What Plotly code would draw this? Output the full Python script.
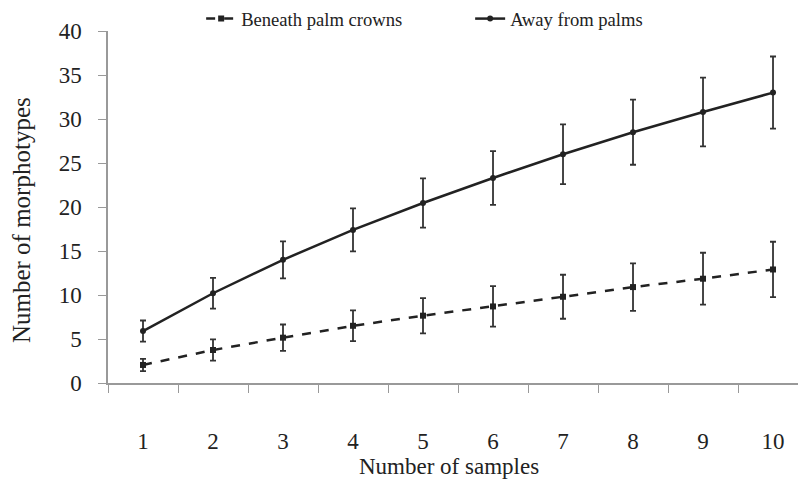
import plotly.graph_objects as go

samples = [1, 2, 3, 4, 5, 6, 7, 8, 9, 10]
tick_labels = ["1", "2", "3", "4", "5", "6", "7", "8", "9", "10"]

beneath = [2.05, 3.75, 5.15, 6.5, 7.65, 8.7, 9.8, 10.9, 11.85, 12.9]
beneath_err = [0.7, 1.2, 1.5, 1.75, 2.0, 2.3, 2.5, 2.7, 2.95, 3.15]

away = [5.9, 10.2, 14.0, 17.4, 20.45, 23.3, 26.0, 28.5, 30.8, 33.0]
away_err = [1.2, 1.75, 2.1, 2.45, 2.8, 3.05, 3.4, 3.7, 3.9, 4.1]

FONT = "'Liberation Serif', 'Times New Roman', 'DejaVu Serif', serif"
INK = "#222222"

fig = go.Figure()
fig.add_trace(go.Scatter(
    x=samples, y=beneath, name="Beneath palm crowns", mode="lines+markers",
    line=dict(color=INK, width=2.5, dash="dash"),
    marker=dict(symbol="square", size=6, color=INK),
    error_y=dict(type="data", array=beneath_err, visible=True, color="#333333", thickness=1.8, width=3),
))
fig.add_trace(go.Scatter(
    x=samples, y=away, name="Away from palms", mode="lines+markers",
    line=dict(color=INK, width=2.5),
    marker=dict(symbol="circle", size=6, color=INK),
    error_y=dict(type="data", array=away_err, visible=True, color="#333333", thickness=1.8, width=3),
))

fig.update_layout(
    width=798, height=479,
    margin=dict(l=108, r=0, t=31, b=96, autoexpand=False),
    paper_bgcolor="white", plot_bgcolor="white",
    font=dict(family=FONT, color=INK),
    showlegend=True,
    legend=dict(orientation="h", x=0.135, y=1.0, xanchor="left", yanchor="top", yref="container",
                font=dict(family=FONT, size=18.6, color=INK),
                entrywidth=224, entrywidthmode="pixels", bgcolor="rgba(0,0,0,0)"),
    xaxis=dict(
        range=[0.5, 10.357], tickvals=samples, ticktext=tick_labels,
        ticks="", showgrid=False, zeroline=False,
        showline=True, linecolor="#999999", linewidth=1.5,
        tickfont=dict(family=FONT, size=23, color=INK),
        ticklabelstandoff=37,
        minor=dict(tick0=0.5, dtick=1, ticks="outside", ticklen=8, tickcolor="#999999", tickwidth=1.2, showgrid=False),
    ),
    yaxis=dict(
        range=[0, 40], dtick=5, tick0=0,
        ticks="outside", ticklen=8, tickcolor="#999999", tickwidth=1.2,
        showgrid=False, zeroline=False,
        showline=True, linecolor="#999999", linewidth=1.5,
        tickfont=dict(family=FONT, size=23, color=INK),
        ticklabelstandoff=12,
    ),
    annotations=[
        dict(text="Number of samples", xref="paper", yref="paper", x=0.494, y=-0.2358,
             xanchor="center", yanchor="middle", showarrow=False,
             font=dict(family=FONT, size=23, color=INK)),
        dict(text="Number of morphotypes", xref="paper", yref="paper", x=-0.126, y=0.463,
             xanchor="center", yanchor="middle", textangle=-90, showarrow=False,
             font=dict(family=FONT, size=25, color=INK)),
    ],
)

fig.write_html("out.html")
